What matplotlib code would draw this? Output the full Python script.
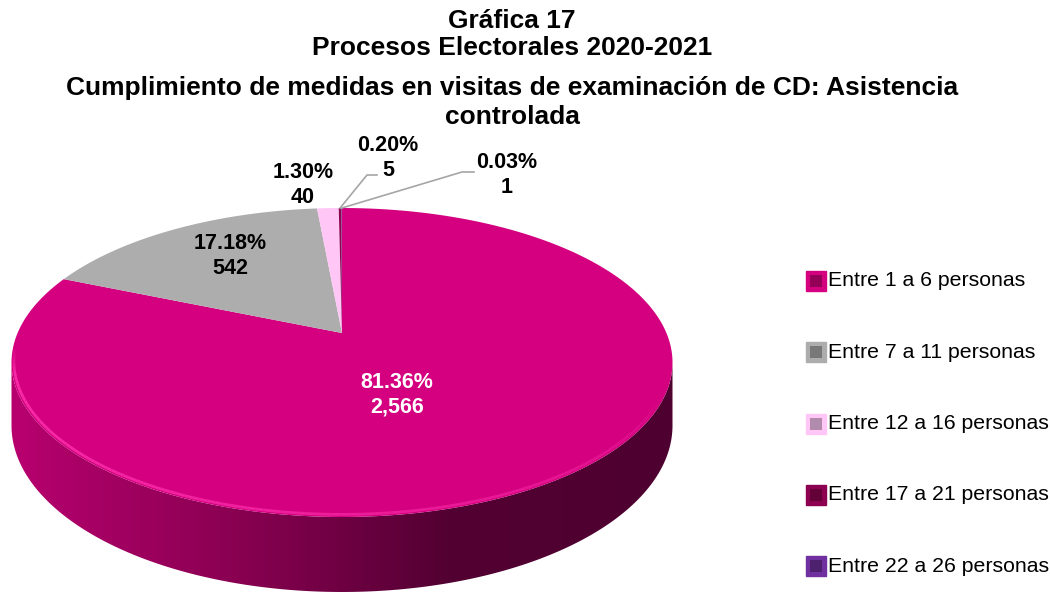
import numpy as np
import matplotlib.pyplot as plt
from matplotlib.patches import Polygon, Rectangle
from matplotlib.colors import LinearSegmentedColormap

# datos
categorias = ["Entre 1 a 6 personas", "Entre 7 a 11 personas", "Entre 12 a 16 personas",
              "Entre 17 a 21 personas", "Entre 22 a 26 personas"]
valores = [2566, 542, 40, 5, 1]
porcentajes = [81.36, 17.18, 1.30, 0.20, 0.03]
colores = ["#D4007F", "#ADADAD", "#FFC6F6", "#8E0050", "#7030A0"]
titulo = ["Gráfica 17", "Procesos Electorales 2020-2021",
          "Cumplimiento de medidas en visitas de examinación de CD: Asistencia", "controlada"]

W, H = 1050, 593
cx = 342
DD, K = 5.24, 1700.0        # perspectiva
prof = 75                   # profundidad de la pared al frente (px)

fig = plt.figure(figsize=(W / 100, H / 100), dpi=100)
ax = fig.add_axes([0, 0, 1, 1])


def proj(u, v):
    # disco unitario -> pixel con perspectiva
    X = cx + K * u / (DD + v)
    Y = (1745 - 447 * v) / (DD + v)
    return X, Y


def profundidad(v):
    return prof * (DD - 1) / (DD + v)


# la libreria calcula los angulos de cada rebanada
wedges, _ = ax.pie(valores, startangle=90, counterclock=False)
angulos = [(w.theta1, w.theta2) for w in wedges]
for w in wedges:
    w.remove()

# pared lateral con degradado
v_ext = -1 / DD
t0 = np.pi + np.arcsin(-v_ext)
t = np.linspace(t0, 3 * np.pi - t0, 300)
xs, ys = proj(np.cos(t), np.sin(t))
yb = ys + profundidad(np.sin(t))
pared = Polygon(np.vstack([np.column_stack([xs, ys]), np.column_stack([xs[::-1], yb[::-1]])]),
                closed=True, facecolor="none", edgecolor="none")
ax.add_patch(pared)
grad = np.linspace(0, 1, 256).reshape(1, -1)
cmap = LinearSegmentedColormap.from_list("pared", ["#B8006F", "#8A0052", "#520032", "#4E0030"])
img = ax.imshow(grad, cmap=cmap, extent=[xs.min(), xs.max(), yb.max(), ys.min()],
                aspect="auto", zorder=1)
img.set_clip_path(pared)

# cara superior
for (a1, a2), col in zip(angulos, colores):
    tt = np.deg2rad(np.linspace(a1, a2, max(int(abs(a2 - a1)) * 2, 4)))
    px_, py_ = proj(np.cos(tt), np.sin(tt))
    c0 = proj(0, 0)
    pts = np.vstack([[c0], np.column_stack([px_, py_])])
    ax.add_patch(Polygon(pts, closed=True, facecolor=col, edgecolor="none", zorder=2))

# brillo en el borde frontal
tb = np.linspace(np.pi * 1.03, np.pi * 1.85, 120)
hx, hy = proj(np.cos(tb) * 0.993, np.sin(tb) * 0.993)
for k in range(len(tb) - 1):
    a = 0.9 * (1 - k / (len(tb) - 1)) ** 0.5 * min(1, k / 8)
    ax.plot(hx[k:k + 2], hy[k:k + 2] - 1, color="#FF33AE", lw=2, alpha=a, zorder=3,
            solid_capstyle="butt")

ax.set_aspect("auto")
ax.set_xlim(0, W)
ax.set_ylim(H, 0)
ax.axis("off")

etiquetas = ["{:.2f}%\n{:,}".format(p, v) for p, v in zip(porcentajes, valores)]
pos_etq = [(397, 395), (230, 256), (303, 185), (388, 158), (507, 175)]
col_etq = ["white", "black", "black", "black", "black"]
for e, p, c in zip(etiquetas, pos_etq, col_etq):
    ax.text(p[0], p[1], e, ha="center", va="center", fontsize=15.5, fontweight="bold",
            color=c, family="Liberation Sans", linespacing=1.2, zorder=5)

# lineas guia para las rebanadas pequenas
guias = {3: (367, 175, 377), 4: (462, 172, 474)}
for i, (gx, gy, gx2) in guias.items():
    ang = np.deg2rad(sum(angulos[i]) / 2)
    x0, y0 = proj(np.cos(ang), np.sin(ang))
    ax.plot([x0, gx, gx2], [y0, gy, gy], color="#A6A6A6", lw=1.2, zorder=4)

# titulo
for linea, y in zip(titulo, [21, 48, 88, 117]):
    fig.text(512 / W, 1 - y / H, linea, ha="center", va="center", fontsize=19,
             fontweight="bold", family="Liberation Sans")

# leyenda
for i, (cat, col) in enumerate(zip(categorias, colores)):
    y = 281 + i * 71.3
    fig.patches.append(Rectangle((806 / W, 1 - (y + 10) / H), 20 / W, 20 / H,
                                 transform=fig.transFigure, facecolor=col,
                                 edgecolor=col, lw=1))
    fig.patches.append(Rectangle((810 / W, 1 - (y + 6) / H), 12 / W, 12 / H,
                                 transform=fig.transFigure, facecolor="black",
                                 alpha=0.3, lw=0))
    fig.text(828 / W, 1 - y / H, cat, ha="left", va="center", fontsize=15.3,
             family="Liberation Sans")

plt.savefig("out.png", dpi=100)
